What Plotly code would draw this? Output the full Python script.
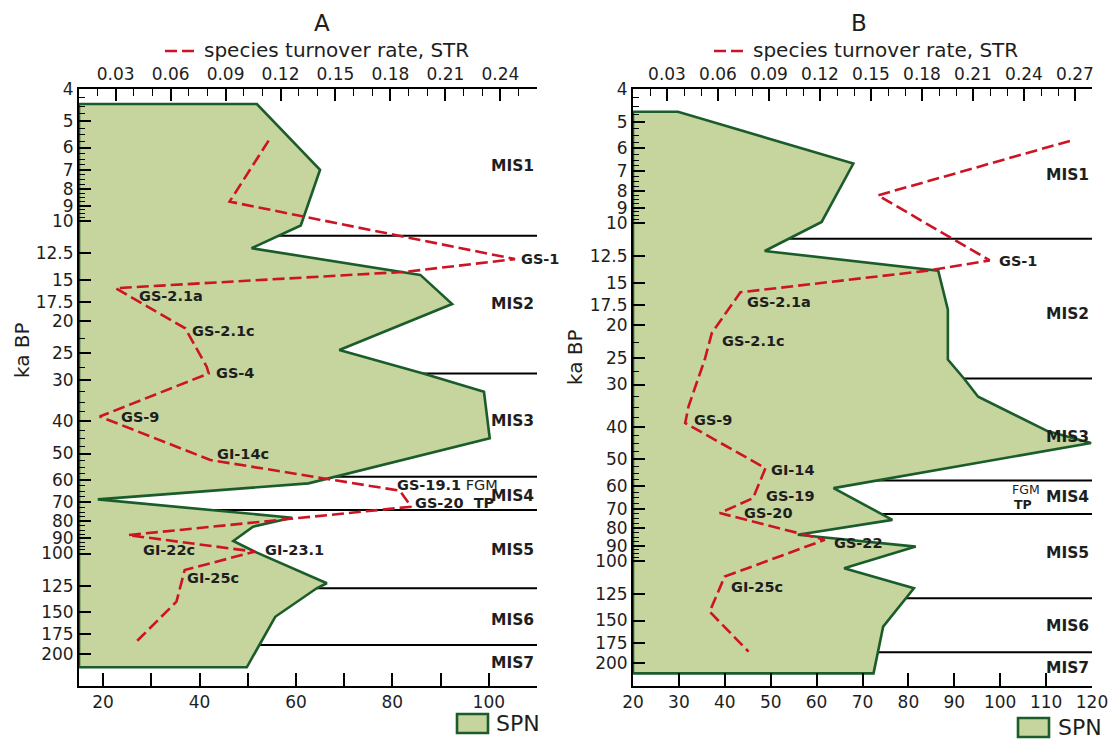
import numpy as np
import plotly.graph_objects as go

# ---------------- DATA ----------------
# y-axis ticks (ka BP, log scale)
age_ticks = [4, 5, 6, 7, 8, 9, 10, 12.5, 15, 17.5, 20, 25, 30, 40, 50, 60, 70, 80, 90, 100, 125, 150, 175, 200]
age_tick_text = ["4", "5", "6", "7", "8", "9", "10", "12.5", "15", "17.5", "20", "25", "30", "40", "50",
                 "60", "70", "80", "90", "100", "125", "150", "175", "200"]
age_minor = [round(v, 2) for v in list(np.arange(4.25, 10, 0.25)) + list(np.arange(12.5, 100, 2.5))
             if round(v, 2) not in age_ticks]

# Panel A : SPN profile
a_spn_age = [4.44, 7.0, 10.3, 12.06, 14.5, 17.75, 24.4, 28.7, 32.6, 45.0, 61.5, 68.7, 78.0, 83.0, 91.7,
             99.4, 122.9, 127.2, 155, 220]
a_spn = [51.9, 65.0, 61.0, 50.8, 85.8, 92.4, 69.0, 86.4, 99.0, 100.2, 62.6, 18.9, 59.2, 51.1, 47.0,
         51.9, 66.4, 64.3, 55.7, 49.8]
# Panel A : species turnover rate
a_str_age = [5.72, 8.73, 13.0, 14.2, 15.9, 21.0, 27.4, 28.7, 38.7, 52.3, 64.7, 72.3, 88.0, 98.7, 112.1,
             139.6, 186.3]
a_str = [0.1135, 0.0922, 0.248, 0.188, 0.030, 0.068, 0.0797, 0.0808, 0.0213, 0.0817, 0.1851, 0.1914,
         0.0368, 0.1059, 0.0677, 0.0632, 0.0404]
a_events = ["GS-1", "GS-2.1a", "GS-2.1c", "GS-4", "GS-9", "GI-14c", "GS-19.1 FGM", "GS-20  TP",
            "GI-22c", "GI-23.1", "GI-25c"]
a_event_idx = [2, 4, 5, 7, 8, 9, 10, 11, 12, 13, 14]
a_mis_bounds = [11.06, 28.7, 58.7, 74.0, 127.2, 188.5]
a_mis_names = ["MIS1", "MIS2", "MIS3", "MIS4", "MIS5", "MIS6", "MIS7"]
a_mis_age = [6.8, 17.8, 40, 67, 97.5, 159, 214]

# Panel B : SPN profile
b_spn_age = [4.67, 6.65, 9.9, 12.07, 13.8, 18.0, 25.3, 28.8, 32.6, 41.3, 44.7, 60.8, 75.5, 83.6, 90.6,
             105, 120.4, 156.4, 215]
b_spn = [29.8, 68.0, 61.1, 48.7, 86.5, 88.6, 88.6, 92.1, 95.2, 110.4, 119.8, 63.7, 76.5, 55.9, 81.6,
         66.0, 81.2, 74.5, 72.4]
# Panel B : species turnover rate
b_str_age = [5.7, 8.26, 12.87, 13.8, 16.0, 21.1, 25.3, 34.8, 39.0, 53.1, 65.1, 72.1, 86.5, 111.2,
             141.2, 185.5]
b_str = [0.267, 0.1541, 0.2198, 0.1835, 0.0732, 0.0564, 0.0522, 0.0427, 0.0407, 0.0879, 0.0806,
         0.061, 0.1228, 0.0639, 0.0551, 0.078]
b_events = ["GS-1", "GS-2.1a", "GS-2.1c", "GS-9", "GI-14", "GS-19", "GS-20", "GS-22", "GI-25c"]
b_event_idx = [2, 4, 5, 8, 9, 10, 11, 12, 13]
b_mis_bounds = [11.1, 28.8, 57.7, 72.6, 128.8, 186.3]
b_mis_names = ["MIS1", "MIS2", "MIS3", "MIS4", "MIS5", "MIS6", "MIS7"]
b_mis_age = [7.17, 18.6, 42.9, 64.4, 94.8, 156, 207.8]

# ---------------- STYLE ----------------
W, H = 1113, 739
ML, MR, MT, MB = 79, 21, 89, 53
PW, PH = W - ML - MR, H - MT - MB
FONT = "DejaVu Sans"
TXT = "#1e1e1e"
FILL = "#c6d49e"
GREEN = "#1b5c2b"
RED = "#cc1424"
DASH = "12px,5px"

a_xr, a_tr, a_yr = [15, 110], [0.01, 0.26], [np.log10(250.4), np.log10(4)]
b_xr, b_tr, b_yr = [20, 120], [0.01, 0.28], [np.log10(234.4), np.log10(4)]

a_label_shift = [(4, 0), (21, -8), (5, -3), (5, 0), (19, 0), (5, 6), (-5, 6), (2, 4), (13, -15), (8, 2), (0, -8)]
b_label_shift = [(7, -1), (5, -10), (8, -8), (7, 3), (4, -2), (11, 2), (22, 0), (7, -3), (4, -10)]


def pxx(x):
    return (x - ML) / PW


def pyy(y):
    return 1 - (y - MT) / PH


fig = go.Figure()
annotations = []
shapes = []


def add_panel(xa, xt, ya, xr, tr, spn, spn_age, strv, str_age, events, ev_idx, shifts,
              bounds, mis_names, mis_age):
    # MIS boundaries (drawn below SPN polygon)
    for b in bounds:
        fig.add_trace(go.Scatter(x=[xr[0], xr[1]], y=[b, b], mode="lines", xaxis=xa, yaxis=ya,
                                 line=dict(color="black", width=2), showlegend=False, hoverinfo="skip"))
    # SPN polygon
    px_ = [xr[0]] + list(spn) + [xr[0], xr[0]]
    py_ = [spn_age[0]] + list(spn_age) + [spn_age[-1], spn_age[0]]
    fig.add_trace(go.Scatter(x=px_, y=py_, mode="lines", fill="toself", fillcolor=FILL, name="SPN",
                             line=dict(color=GREEN, width=2.6), xaxis=xa, yaxis=ya, showlegend=False))
    # STR
    fig.add_trace(go.Scatter(x=strv, y=str_age, mode="lines", name="species turnover rate, STR",
                             line=dict(color=RED, width=2.6, dash=DASH), xaxis=xt, yaxis=ya,
                             showlegend=False))
    for txt, i, (dx, dy) in zip(events, ev_idx, shifts):
        parts = txt.split(" ")
        if txt.endswith("FGM"):
            label = "<b>%s</b> FGM" % parts[0]
        else:
            label = "<b>%s</b>" % txt.replace("  ", "&nbsp;&nbsp;")
        annotations.append(dict(x=strv[i], y=np.log10(str_age[i]), xref=xt, yref=ya, text=label,
                                showarrow=False, xanchor="left", yanchor="middle", xshift=dx, yshift=dy,
                                font=dict(size=14.5, color=TXT, family=FONT)))
    for name, a in zip(mis_names, mis_age):
        annotations.append(dict(x=1, y=np.log10(a), xref=xa + " domain", yref=ya, text="<b>%s</b>" % name,
                                showarrow=False, xanchor="right", yanchor="middle", xshift=-1,
                                font=dict(size=15.5, color=TXT, family=FONT)))


add_panel("x", "x2", "y", a_xr, a_tr, a_spn, a_spn_age, a_str, a_str_age, a_events, a_event_idx,
          a_label_shift, a_mis_bounds, a_mis_names, a_mis_age)
add_panel("x3", "x4", "y2", b_xr, b_tr, b_spn, b_spn_age, b_str, b_str_age, b_events, b_event_idx,
          b_label_shift, b_mis_bounds, b_mis_names, b_mis_age)

# FGM / TP notes in panel B
annotations.append(dict(x=(1042 - 633) / 459, y=np.log10(61.5), xref="x3 domain", yref="y2", text="FGM",
                        showarrow=False, xanchor="right", yanchor="middle",
                        font=dict(size=12.5, color=TXT, family=FONT)))
annotations.append(dict(x=(1034 - 633) / 459, y=np.log10(68.2), xref="x3 domain", yref="y2", text="<b>TP</b>",
                        showarrow=False, xanchor="right", yanchor="middle",
                        font=dict(size=12.5, color=TXT, family=FONT)))

# titles, axis titles, legend keys
for t, cx in (("A", 322), ("B", 859)):
    annotations.append(dict(x=pxx(cx), y=pyy(23), xref="paper", yref="paper", text=t, showarrow=False,
                            xanchor="center", yanchor="middle", font=dict(size=23, color=TXT, family=FONT)))
for cx, cy in ((22, 350), (575, 357)):
    annotations.append(dict(x=pxx(cx), y=pyy(cy), xref="paper", yref="paper", text="ka BP", showarrow=False,
                            textangle=-90, xanchor="center", yanchor="middle",
                            font=dict(size=20, color=TXT, family=FONT)))
for x0, x1, tx in ((165, 196, 202), (714, 746, 751)):
    shapes.append(dict(type="line", xref="paper", yref="paper", x0=pxx(x0), x1=pxx(x1), y0=pyy(51), y1=pyy(51),
                       line=dict(color=RED, width=2.6, dash=DASH)))
    annotations.append(dict(x=pxx(tx), y=pyy(50), xref="paper", yref="paper",
                            text="species turnover rate, STR", showarrow=False, xanchor="left",
                            yanchor="middle", font=dict(size=20, color=TXT, family=FONT)))
for x0, y0, tx in ((457, 714, 494), (1018, 718, 1056)):
    shapes.append(dict(type="rect", xref="paper", yref="paper", x0=pxx(x0), x1=pxx(x0 + 31), y0=pyy(y0),
                       y1=pyy(y0 + 19), fillcolor=FILL, line=dict(color=GREEN, width=2.6)))
    annotations.append(dict(x=pxx(tx), y=pyy(y0 + 9), xref="paper", yref="paper", text="SPN",
                            showarrow=False, xanchor="left", yanchor="middle",
                            font=dict(size=22, color=TXT, family=FONT)))

tickfont = dict(size=17, color=TXT, family=FONT)
line_common = dict(showline=True, linecolor="black", linewidth=2, showgrid=False, zeroline=False,
                   ticks="inside", tickcolor="black", tickwidth=1.6, tickfont=tickfont, automargin=False)

yax = dict(type="log", tickmode="array", tickvals=age_ticks, ticktext=age_tick_text, ticklen=12,
           minor=dict(tickmode="array", tickvals=age_minor, ticklen=6, ticks="inside", tickcolor="black",
                      tickwidth=1.2), **line_common)

dom_a = [0, (537 - ML) / PW]
dom_b = [(633 - ML) / PW, 1]

fig.update_layout(
    width=W, height=H, margin=dict(l=ML, r=MR, t=MT, b=MB, autoexpand=False),
    paper_bgcolor="white", plot_bgcolor="rgba(0,0,0,0)",
    showlegend=False,
    xaxis=dict(domain=dom_a, range=a_xr, anchor="y", dtick=20, tick0=0, ticklen=13,
               minor=dict(dtick=10, tick0=0, ticklen=13, ticks="inside", tickcolor="black", tickwidth=1.6),
               **line_common),
    xaxis2=dict(overlaying="x", side="top", anchor="y", range=a_tr, dtick=0.03, tick0=0, tickformat=".2f",
                ticklen=12, minor=dict(dtick=0.01, tick0=0, ticklen=7, ticks="inside", tickcolor="black",
                                       tickwidth=1.2), **line_common),
    xaxis3=dict(domain=dom_b, range=b_xr, anchor="y2", dtick=10, tick0=0, ticklen=13, **line_common),
    xaxis4=dict(overlaying="x3", side="top", anchor="y2", range=b_tr, dtick=0.03, tick0=0, tickformat=".2f",
                ticklen=12, minor=dict(dtick=0.01, tick0=0, ticklen=7, ticks="inside", tickcolor="black",
                                       tickwidth=1.2), **line_common),
    yaxis=dict(domain=[0, 1], range=a_yr, anchor="x", **yax),
    yaxis2=dict(domain=[0, 1], range=b_yr, anchor="x3", **yax),
    annotations=annotations, shapes=shapes,
    font=dict(family=FONT, color=TXT),
)

fig.write_html("out.html", config={"displayModeBar": False},
               post_script="document.body.style.margin='0px';document.body.style.overflow='hidden';")
